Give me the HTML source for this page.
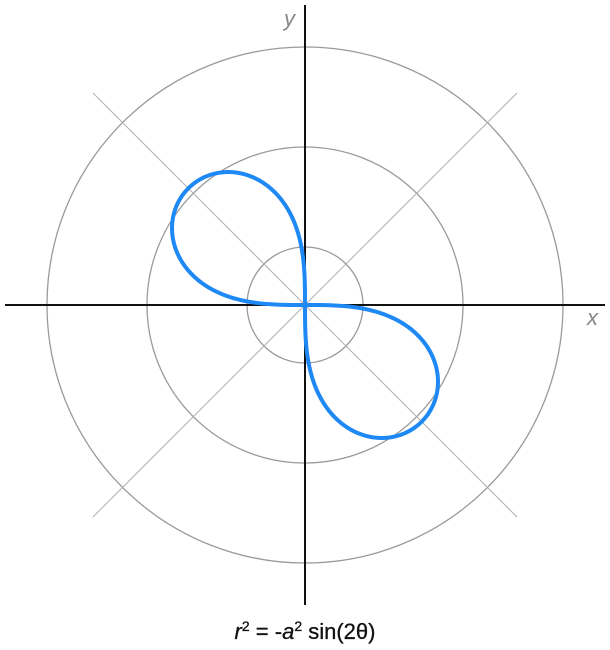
<!DOCTYPE html>
<html><head><meta charset="utf-8"><style>
html,body{margin:0;padding:0;background:#fff;}
svg{display:block;}
</style></head><body>
<svg id="s" width="610" height="650" viewBox="0 0 610 650" xmlns="http://www.w3.org/2000/svg">
<g fill="none" stroke="#9a9a9a" stroke-width="1.3">
<circle cx="305" cy="305" r="58"/>
<circle cx="305" cy="305" r="158"/>
<circle cx="305" cy="305" r="258"/>
</g>
<g stroke="#b0b0b0" stroke-width="1">
<line x1="93" y1="93" x2="517" y2="517"/>
<line x1="93" y1="517" x2="517" y2="93"/>
</g>
<g stroke="#111" stroke-width="2">
<line x1="5" y1="305" x2="605" y2="305"/>
<line x1="305" y1="5" x2="305" y2="605"/>
</g>
<path id="c" fill="none" stroke="#1e88f5" stroke-width="4" stroke-linejoin="round"/>
<text x="284" y="26" font-family="Liberation Sans, sans-serif" font-style="italic" font-size="22" fill="#888">y</text>
<text x="587" y="325" font-family="Liberation Sans, sans-serif" font-style="italic" font-size="22" fill="#888">x</text>
<text x="305" y="639" text-anchor="middle" font-family="Liberation Sans, sans-serif" font-size="22" font-weight="500" fill="#111" stroke="#111" stroke-width="0.3"><tspan font-style="italic">r</tspan><tspan dy="-8" font-size="14">2</tspan><tspan dy="8"> = -</tspan><tspan font-style="italic">a</tspan><tspan dy="-8" font-size="14">2</tspan><tspan dy="8"> sin(2θ)</tspan></text>
</svg>
<script>
var a=165,cx=305,cy=305,d="";
function loop(t0,t1){var p="";for(var i=0;i<=400;i++){var t=t0+(t1-t0)*i/400;var v=-Math.sin(2*t);if(v<0)v=0;var r=a*Math.sqrt(v);var x=cx+r*Math.cos(t),y=cy-r*Math.sin(t);p+=(i?"L":"M")+x.toFixed(2)+" "+y.toFixed(2);}return p;}
d=loop(Math.PI/2,Math.PI)+loop(3*Math.PI/2,2*Math.PI);
document.getElementById("c").setAttribute("d",d);
</script>
</body></html>
